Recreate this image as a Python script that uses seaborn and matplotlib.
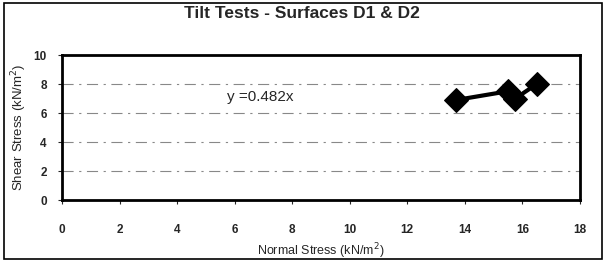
import numpy as np
import pandas as pd
import matplotlib
matplotlib.use("Agg")
import matplotlib.pyplot as plt
import seaborn as sns
from matplotlib.patches import Rectangle

# 数据
normal_stress = [13.7, 15.5, 15.75, 16.5]
shear_stress = [6.9, 7.5, 7.0, 8.0]
x_ticks = [0, 2, 4, 6, 8, 10, 12, 14, 16, 18]
y_ticks = [0, 2, 4, 6, 8, 10]
equation = "y =0.482x"

sns.set_style("white")
plt.rcParams['font.family'] = ['Liberation Sans', 'DejaVu Sans']

df = pd.DataFrame({"x": normal_stress, "y": shear_stress})

fig = plt.figure(figsize=(6.04, 2.62), dpi=100)
ax = fig.add_axes([0.1026, 0.2366, 0.8576, 0.5534])

# 网格线
for v in y_ticks[1:-1]:
    ax.axhline(v, color='#888888', lw=0.8, ls=(0, (10, 5, 2, 5)), zorder=0)

sns.lineplot(data=df, x="x", y="y", sort=False, ax=ax, color='black',
             lw=3, marker='D', markersize=12.5, markeredgecolor='black',
             zorder=3)

ax.text(6.9, 7.1, equation, ha='center', va='center', fontsize=11)

ax.set_xlim(0, 18)
ax.set_ylim(0, 10)
ax.set_xticks(x_ticks)
ax.set_yticks(y_ticks)
ax.tick_params(axis='x', direction='out', length=3, width=0.8, pad=14,
               labelsize=8.5)
ax.tick_params(axis='y', direction='out', length=3, width=0.8, pad=8,
               labelsize=8.5)
ax.xaxis.set_ticks_position('bottom')
ax.yaxis.set_ticks_position('left')
for lab in ax.get_xticklabels() + ax.get_yticklabels():
    lab.set_fontweight('bold')
for sp in ax.spines.values():
    sp.set_linewidth(2)
    sp.set_color('black')

ax.set_xlabel("Normal Stress (kN/m$^2$)", fontsize=9, labelpad=4)
ax.set_ylabel("Shear Stress (kN/m$^2$)", fontsize=9.5, labelpad=3)

fig.text(0.5, 0.948, "Tilt Tests - Surfaces D1 & D2",
         ha='center', va='center', fontsize=12.5, fontweight='bold')

# 外框
fig.patches.append(Rectangle((0.006, 0.01), 0.99, 0.98, transform=fig.transFigure,
                             fill=False, edgecolor='black', lw=1.2))

fig.savefig("out.png", dpi=100)
